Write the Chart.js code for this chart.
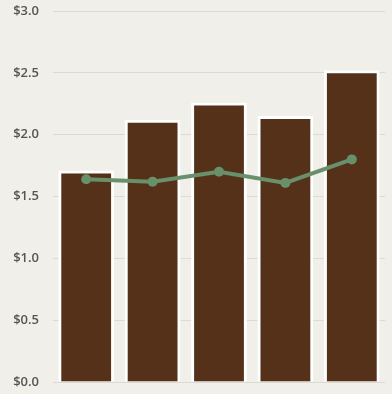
<!DOCTYPE html>
<html>
<head>
<meta charset="utf-8">
<script src="https://cdn.jsdelivr.net/npm/chart.js@4"></script>
<style>
html,body{margin:0;padding:0;background:#f0efe9;}
#wrap{width:392px;height:394px;}
</style>
</head>
<body>
<div id="wrap"><canvas id="c" width="392" height="394"></canvas></div>
<script>
const categories = ["A", "B", "C", "D", "E"];
const barValues = [1.71, 2.12, 2.26, 2.15, 2.52];
const lineValues = [1.64, 1.62, 1.70, 1.61, 1.80];
const yTicks = [0, 0.5, 1.0, 1.5, 2.0, 2.5, 3.0];

new Chart(document.getElementById('c'), {
  data: {
    labels: categories,
    datasets: [
      {
        type: 'line',
        data: lineValues,
        borderColor: '#68906a',
        backgroundColor: '#68906a',
        borderWidth: 4,
        pointRadius: 5,
        pointHoverRadius: 5,
        pointBackgroundColor: '#68906a',
        pointBorderWidth: 0,
        tension: 0,
        order: 0
      },
      {
        type: 'bar',
        data: barValues,
        backgroundColor: '#55311a',
        borderColor: '#ffffff',
        borderWidth: 3,
        borderSkipped: 'bottom',
        categoryPercentage: 1.0,
        barPercentage: 0.84,
        order: 1
      }
    ]
  },
  options: {
    responsive: false,
    animation: false,
    devicePixelRatio: 1,
    layout: { padding: { top: 11, bottom: 12, left: 0, right: 7 } },
    plugins: { legend: { display: false }, tooltip: { enabled: false } },
    scales: {
      x: { display: false },
      y: {
        min: 0, max: 3,
        afterFit: (s) => { s.width = 53; s.paddingTop = 0; s.paddingBottom = 0; },
        afterBuildTicks: (s) => { s.ticks = yTicks.map(v => ({ value: v })); },
        grid: { color: '#dcdad4', lineWidth: 1, drawTicks: false },
        border: { display: false },
        ticks: {
          padding: 14,
          color: '#555555',
          font: { family: 'Open Sans', size: 13, weight: '600' },
          callback: (v) => '$' + Number(v).toFixed(1)
        }
      }
    }
  }
});
</script>
</body>
</html>
